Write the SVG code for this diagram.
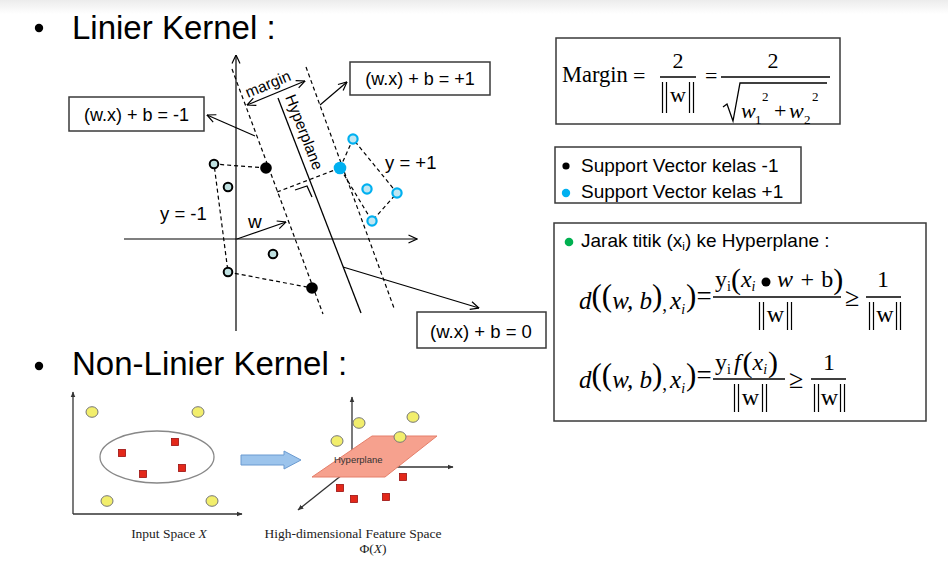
<svg xmlns="http://www.w3.org/2000/svg" width="948" height="562" viewBox="0 0 948 562">
<defs>
<linearGradient id="topg" x1="0" y1="0" x2="0" y2="1"><stop offset="0" stop-color="#ececec"/><stop offset="1" stop-color="#ffffff"/></linearGradient>
<marker id="oa" viewBox="0 0 10 10" refX="9.5" refY="5" markerWidth="10" markerHeight="10" orient="auto-start-reverse" markerUnits="userSpaceOnUse"><path d="M1,1 L9.5,5 L1,9" fill="none" stroke="#000" stroke-width="1.2"/></marker>
<marker id="ta" viewBox="0 0 10 10" refX="9" refY="5" markerWidth="6" markerHeight="6" orient="auto" markerUnits="userSpaceOnUse"><path d="M0,1 L10,5 L0,9 Z" fill="#333"/></marker>
</defs>
<style>
.t{font-family:"Liberation Sans",Arial,sans-serif;fill:#000}
.s{font-family:"Liberation Serif","Times New Roman",serif;fill:#000}
.i{font-style:italic}
.box{fill:#fff;stroke:#3a3a3a;stroke-width:1.5}
.ln{stroke:#000;stroke-width:1.3;fill:none}
.ds{stroke:#000;stroke-width:1.2;stroke-dasharray:4 3;fill:none}
.ar{stroke:#000;stroke-width:1.2;fill:none;marker-end:url(#oa)}
.oc{fill:#bfe0e0;stroke:#000;stroke-width:2}
.bc{fill:#bfe6f2;stroke:#00b0f0;stroke-width:2.2}
.nb{stroke:#000;stroke-width:1.2}
.yl{fill:#f2ee6c;stroke:#777;stroke-width:1}
.rs{fill:#e3281a;stroke:#9a1010;stroke-width:0.8}
.cap{font-family:"Liberation Serif","Times New Roman",serif;fill:#222;font-size:13.5px}
</style>
<rect x="0" y="0" width="948" height="562" fill="#fff"/>
<rect x="0" y="0" width="948" height="14" fill="url(#topg)"/>

<g id="title-linier">
<circle cx="39" cy="28" r="4.2" fill="#000"/>
<text class="t" x="72" y="39" font-size="33">Linier Kernel :</text>
</g>
<g id="title-nonlinier">
<circle cx="39" cy="366" r="4.2" fill="#000"/>
<text class="t" x="72" y="375" font-size="33">Non-Linier Kernel :</text>
</g>

<g id="axes">
<line x1="236" y1="331" x2="236" y2="55" class="ar"/>
<line x1="124" y1="239" x2="417" y2="239" class="ar"/>
</g>

<g id="lines">
<line x1="232" y1="69" x2="323" y2="314" class="ds"/>
<line x1="306" y1="67" x2="394" y2="308" class="ds"/>
<line x1="278" y1="98" x2="361" y2="313" class="ln"/>
<polyline points="266,168 214,164 228,272 312,288" class="ds"/>
<polyline points="340,168 353,139 397,193 372,221 340,168" class="ds"/>
<line x1="277" y1="192" x2="340" y2="168" class="ds"/>
<polyline points="295,190 307,186 312,197" class="ln" stroke-width="1.2"/>
</g>

<g id="connectors">
<line x1="247" y1="105" x2="305" y2="81" class="ar" style="marker-start:url(#oa)"/>
<line x1="255" y1="136" x2="207" y2="115" class="ar"/>
<line x1="320" y1="105" x2="347" y2="82" class="ar"/>
<line x1="343" y1="267" x2="479" y2="308" class="ar"/>
<line x1="237" y1="239" x2="286" y2="222" class="ar"/>
</g>

<g id="points">
<circle cx="214" cy="164" r="4.3" class="oc"/>
<circle cx="228" cy="187" r="4.3" class="oc"/>
<circle cx="273" cy="254" r="4.3" class="oc"/>
<circle cx="228" cy="272" r="4.3" class="oc"/>
<circle cx="266" cy="168" r="5.8" fill="#000"/>
<circle cx="312" cy="288" r="5.8" fill="#000"/>
<circle cx="340" cy="168" r="6.3" fill="#00b0f0"/>
<circle cx="353" cy="139" r="4.6" class="bc"/>
<circle cx="367" cy="189" r="4.6" class="bc"/>
<circle cx="397" cy="193" r="4.6" class="bc"/>
<circle cx="372" cy="221" r="4.6" class="bc"/>
</g>

<g id="labels">
<text class="t" x="270" y="89" font-size="15.5" text-anchor="middle" transform="rotate(-22.5 270 89)">margin</text>
<text class="t" font-size="15.5" transform="translate(285 97) rotate(68.9)">Hyperplane</text>
<text class="t" x="248" y="228" font-size="19">w</text>
<text class="t" x="160" y="220" font-size="18.5">y = -1</text>
<text class="t" x="385" y="169" font-size="18.5">y = +1</text>
</g>

<g id="box-minus">
<rect x="69" y="97" width="135" height="34" class="box"/>
<text class="t" x="136.5" y="121" font-size="18" text-anchor="middle" fill="#111">(w.x) + b = -1</text>
</g>
<g id="box-plus">
<rect x="350" y="62" width="140" height="33" class="box"/>
<text class="t" x="420" y="85" font-size="18" text-anchor="middle">(w.x) + b = +1</text>
</g>
<g id="box-zero">
<rect x="417" y="312" width="129" height="36" class="box"/>
<text class="t" x="481" y="338" font-size="18.5" text-anchor="middle">(w.x) + b = 0</text>
</g>

<g id="margin-formula">
<rect x="556" y="38" width="284" height="86" class="box"/>
<text class="s" x="562" y="82" font-size="22.5">Margin</text>
<text class="s" x="633" y="83" font-size="22">=</text>
<text class="s" x="678" y="68" font-size="22" text-anchor="middle">2</text>
<line x1="660" y1="77" x2="696" y2="77" class="ln"/>
<g class="nb"><line x1="662.5" y1="82" x2="662.5" y2="113"/><line x1="666.5" y1="82" x2="666.5" y2="113"/><line x1="689.5" y1="82" x2="689.5" y2="113"/><line x1="693.5" y1="82" x2="693.5" y2="113"/></g>
<text class="s" x="678" y="102" font-size="22" text-anchor="middle">w</text>
<text class="s" x="705" y="83" font-size="22">=</text>
<text class="s" x="773" y="68" font-size="22" text-anchor="middle">2</text>
<line x1="721" y1="77" x2="830" y2="77" class="ln"/>
<polyline points="723,107 727,104 733,121 740,83 827,83" class="ln"/>
<text class="s" font-size="22"><tspan class="i" x="741" y="118">w</tspan><tspan x="755" y="124" font-size="13">1</tspan><tspan x="762" y="101" font-size="13">2</tspan><tspan x="774" y="118">+</tspan><tspan class="i" x="789" y="118">w</tspan><tspan x="804" y="124" font-size="13">2</tspan><tspan x="812" y="101" font-size="13">2</tspan></text>
</g>

<g id="legend">
<rect x="555" y="147" width="246" height="56" class="box"/>
<circle cx="566" cy="166" r="3.6" fill="#000"/>
<text class="t" x="581" y="172" font-size="19">Support Vector kelas -1</text>
<circle cx="566" cy="193" r="4.2" fill="#00b0f0"/>
<text class="t" x="581" y="198" font-size="19">Support Vector kelas +1</text>
</g>

<g id="distance-formula">
<rect x="554" y="223" width="372" height="198" class="box"/>
<circle cx="569" cy="242" r="4.3" fill="#00b050"/>
<text class="t" x="581" y="247" font-size="19">Jarak titik (x<tspan font-size="11.5" dy="3">i</tspan><tspan dy="-3">) ke Hyperplane :</tspan></text>

<text class="s" x="579" y="309" font-size="25"><tspan class="i">d</tspan><tspan font-size="31" dy="-3">((</tspan><tspan class="i" dy="3">w, b</tspan><tspan font-size="31" dy="-3">)</tspan><tspan font-size="19" dy="5">,</tspan><tspan class="i" dx="3" dy="-2">x</tspan><tspan class="i" font-size="14" dy="5">i</tspan><tspan font-size="31" dx="1" dy="-8">)</tspan><tspan font-size="27" dy="-1">=</tspan></text>
<text class="s" x="715" y="287" font-size="24">y<tspan font-size="14" dy="4">i</tspan><tspan font-size="30" dy="-2">(</tspan><tspan class="i" dy="-2">x</tspan><tspan class="i" font-size="14" dy="4">i</tspan><tspan class="i" x="777" dy="-4">w + </tspan>b<tspan font-size="30" dy="2">)</tspan></text>
<circle cx="766" cy="282" r="4.5" fill="#000"/>
<line x1="713" y1="297" x2="841" y2="297" class="ln"/>
<g class="nb"><line x1="759.5" y1="302" x2="759.5" y2="330"/><line x1="763.5" y1="302" x2="763.5" y2="330"/><line x1="787.5" y1="302" x2="787.5" y2="330"/><line x1="791.5" y1="302" x2="791.5" y2="330"/></g>
<text class="s" x="775.5" y="322" font-size="24" text-anchor="middle">w</text>
<text class="s" x="845" y="306" font-size="26">≥</text>
<text class="s" x="883" y="287" font-size="24" text-anchor="middle">1</text>
<line x1="866" y1="297" x2="901" y2="297" class="ln"/>
<g class="nb"><line x1="869.5" y1="302" x2="869.5" y2="330"/><line x1="873.5" y1="302" x2="873.5" y2="330"/><line x1="896.5" y1="302" x2="896.5" y2="330"/><line x1="900.5" y1="302" x2="900.5" y2="330"/></g>
<text class="s" x="885" y="322" font-size="24" text-anchor="middle">w</text>

<text class="s" x="579" y="388" font-size="25"><tspan class="i">d</tspan><tspan font-size="31" dy="-3">((</tspan><tspan class="i" dy="3">w, b</tspan><tspan font-size="31" dy="-3">)</tspan><tspan font-size="19" dy="5">,</tspan><tspan class="i" dx="3" dy="-2">x</tspan><tspan class="i" font-size="14" dy="5">i</tspan><tspan font-size="31" dx="1" dy="-8">)</tspan><tspan font-size="27" dy="-1">=</tspan></text>
<text class="s" x="715" y="370" font-size="24">y<tspan font-size="14" dy="4">i</tspan><tspan class="i" dx="3" dy="-4">f</tspan><tspan font-size="30" dx="2" dy="2">(</tspan><tspan class="i" dy="-2">x</tspan><tspan class="i" font-size="14" dy="4">i</tspan><tspan font-size="30" dx="1" dy="-2">)</tspan></text>
<line x1="713" y1="379" x2="785" y2="379" class="ln"/>
<g class="nb"><line x1="734.5" y1="384" x2="734.5" y2="412"/><line x1="738.5" y1="384" x2="738.5" y2="412"/><line x1="762.5" y1="384" x2="762.5" y2="412"/><line x1="766.5" y1="384" x2="766.5" y2="412"/></g>
<text class="s" x="750.5" y="405" font-size="24" text-anchor="middle">w</text>
<text class="s" x="789" y="388" font-size="26">≥</text>
<text class="s" x="829" y="370" font-size="24" text-anchor="middle">1</text>
<line x1="811" y1="379" x2="846" y2="379" class="ln"/>
<g class="nb"><line x1="814.5" y1="384" x2="814.5" y2="412"/><line x1="818.5" y1="384" x2="818.5" y2="412"/><line x1="840.5" y1="384" x2="840.5" y2="412"/><line x1="844.5" y1="384" x2="844.5" y2="412"/></g>
<text class="s" x="829.5" y="405" font-size="24" text-anchor="middle">w</text>
</g>

<g id="input-space">
<line x1="73" y1="514" x2="73" y2="392" stroke="#333" stroke-width="1.3" marker-end="url(#ta)"/>
<line x1="73" y1="514" x2="242" y2="514" stroke="#333" stroke-width="1.3" marker-end="url(#ta)"/>
<ellipse cx="157" cy="457" rx="57" ry="26" fill="#fff" stroke="#888" stroke-width="1.3"/>
<ellipse cx="92" cy="412" rx="6" ry="5.3" class="yl"/>
<ellipse cx="198" cy="412" rx="6" ry="5.3" class="yl"/>
<ellipse cx="107" cy="501" rx="6" ry="5.3" class="yl"/>
<ellipse cx="212" cy="501" rx="6" ry="5.3" class="yl"/>
<rect x="118.5" y="449.5" width="7" height="7" class="rs"/>
<rect x="171.5" y="438.5" width="7" height="7" class="rs"/>
<rect x="139.5" y="470.5" width="7" height="7" class="rs"/>
<rect x="178.5" y="464.5" width="7" height="7" class="rs"/>
<text class="cap" x="169" y="538" text-anchor="middle">Input Space <tspan font-style="italic">X</tspan></text>
</g>

<g id="transform-arrow">
<polygon points="241,455 284,455 284,451 301,460 284,469 284,465 241,465" fill="#9cc4ec" stroke="#6a9ad0" stroke-width="1"/>
</g>

<g id="feature-space">
<line x1="352" y1="467" x2="352" y2="397" stroke="#333" stroke-width="1.3" marker-end="url(#ta)"/>
<line x1="352" y1="467" x2="453" y2="467" stroke="#333" stroke-width="1.3" marker-end="url(#ta)"/>
<line x1="352" y1="467" x2="298" y2="510" stroke="#333" stroke-width="1.3" marker-end="url(#ta)"/>
<polygon points="312,477 372,436 437,436 385,477" fill="#f6a18e" stroke="#e57f6a" stroke-width="1"/>
<text x="334" y="463" font-family="Liberation Sans, Arial, sans-serif" font-size="9.5" fill="#333">Hyperplane</text>
<ellipse cx="359" cy="423" rx="6" ry="5.3" class="yl"/>
<ellipse cx="413" cy="417" rx="6" ry="5.3" class="yl"/>
<ellipse cx="337" cy="441" rx="6" ry="5.3" class="yl"/>
<ellipse cx="400" cy="437" rx="6" ry="5.3" class="yl"/>
<rect x="399.5" y="473.5" width="7" height="7" class="rs"/>
<rect x="336.5" y="484.5" width="7" height="7" class="rs"/>
<rect x="350.5" y="495.5" width="7" height="7" class="rs"/>
<rect x="382.5" y="493.5" width="7" height="7" class="rs"/>
<text class="cap" x="353" y="538" text-anchor="middle">High-dimensional Feature Space</text>
<text class="cap" x="373" y="553" text-anchor="middle">Φ(<tspan font-style="italic">X</tspan>)</text>
</g>
</svg>
